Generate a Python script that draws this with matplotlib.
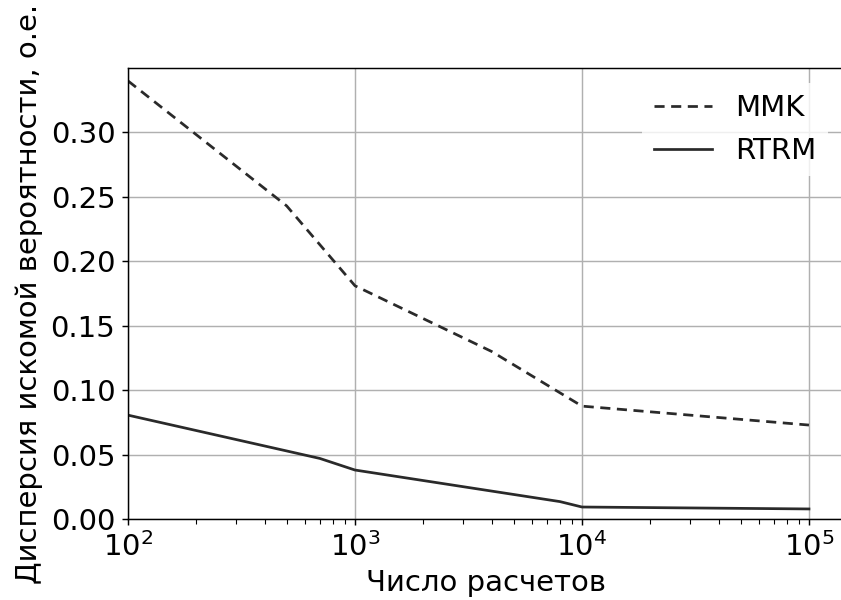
import matplotlib
matplotlib.use("Agg")
import matplotlib.pyplot as plt

x_mmk = [1e2, 5e2, 1e3, 4e3, 1e4, 1e5]
y_mmk = [0.340, 0.243, 0.181, 0.130, 0.0876, 0.0729]
x_rtrm = [1e2, 7e2, 1e3, 8e3, 1e4, 1e5]
y_rtrm = [0.0806, 0.047, 0.038, 0.0135, 0.0093, 0.0078]
labels = ["MMK", "RTRM"]
xlabel = "Число расчетов"
ylabel = "Дисперсия искомой вероятности, о.е."

plt.rcParams['font.family'] = ['DejaVu Sans']
DPI = 131
fig = plt.figure(figsize=(841/DPI, 600/DPI), dpi=DPI)
ax = fig.add_axes([128/841, 1-519/600, (843-128)/841, (519-68)/600])
ax.plot(x_mmk, y_mmk, linestyle=(0, (3.7, 2.4)), color='#2a2a2a', lw=1.5, label=labels[0])
ax.plot(x_rtrm, y_rtrm, linestyle='-', color='#2a2a2a', lw=1.5, label=labels[1])
ax.set_xscale('log')
ax.set_xlim(1e2, 10**5.15)
ax.set_ylim(0, 0.35)
ax.set_yticks([0, 0.05, 0.10, 0.15, 0.20, 0.25, 0.30])
ax.grid(True, which='major', color='#b0b0b0', lw=0.8)
ax.tick_params(labelsize=16)
ax.tick_params(which='minor', length=3)
ax.set_xlabel(xlabel, fontsize=16)
ax.set_ylabel(ylabel, fontsize=16)
leg = ax.legend(loc='upper right', fontsize=16, frameon=True)
leg.get_frame().set_edgecolor('none')
fig.savefig("out.png", dpi=DPI)
